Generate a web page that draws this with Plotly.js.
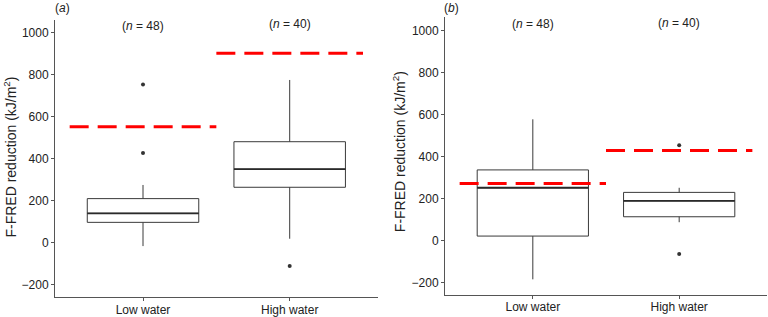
<!DOCTYPE html>
<html>
<head>
<meta charset="utf-8">
<script src="https://cdn.plot.ly/plotly-3.0.1.min.js"></script>
<style>
html,body{margin:0;padding:0;background:#fff;}
#chart{width:768px;height:317px;}
</style>
</head>
<body>
<div id="chart"></div>
<script>
// ---- data ----
const categories = ['Low water', 'High water'];
const catPos = [1, 2];
const nLabels = ['48', '40'];

// panel (a)
const q1A = [95, 262];
const medA = [138, 348];
const q3A = [208, 479];
const lowA = [-18, 17];
const highA = [273, 773];
const outXA = [1, 1, 2];
const outYA = [752, 425, -113];
const refA = [550, 900];

// panel (b)
const q1B = [22, 114];
const medB = [252, 190];
const q3B = [337, 230];
const lowB = [-184, 88];
const highB = [578, 252];
const outXB = [2, 2];
const outYB = [455, -63];
const refB = [272, 430];

const yTicks = [-200, 0, 200, 400, 600, 800, 1000];

// ---- styles ----
const BOXW = 0.76;
const boxLine = '#3a3a3a';
const font = 'Liberation Sans, Arial, Helvetica, sans-serif';

function panel(xa, ya, q1, med, q3, lo, hi, ox, oy, ref) {
  const tr = [];
  tr.push({
    type: 'box', xaxis: xa, yaxis: ya,
    x: catPos, q1: q1, median: med, q3: q3, lowerfence: lo, upperfence: hi,
    width: BOXW, boxpoints: false, fillcolor: '#ffffff',
    line: {color: boxLine, width: 1}, whiskerwidth: 0,
    hoverinfo: 'skip', showlegend: false
  });
  // thicker median
  catPos.forEach((c, i) => {
    tr.push({
      type: 'scatter', mode: 'lines', xaxis: xa, yaxis: ya,
      x: [c - BOXW / 2, c + BOXW / 2], y: [med[i], med[i]],
      line: {color: '#2a2a2a', width: 1.8}, hoverinfo: 'skip', showlegend: false
    });
  });
  // outliers
  tr.push({
    type: 'scatter', mode: 'markers', xaxis: xa, yaxis: ya,
    x: ox, y: oy, marker: {color: '#333333', size: 4},
    hoverinfo: 'skip', showlegend: false
  });
  // red dashed reference lines
  catPos.forEach((c, i) => {
    tr.push({
      type: 'scatter', mode: 'lines', xaxis: xa, yaxis: ya,
      x: [c - 0.5, c + 0.5], y: [ref[i], ref[i]],
      line: {color: '#ff0000', width: 3, dash: '19px,9px'},
      hoverinfo: 'skip', showlegend: false
    });
  });
  return tr;
}

const traces = [].concat(
  panel('x', 'y', q1A, medA, q3A, lowA, highA, outXA, outYA, refA),
  panel('x2', 'y2', q1B, medB, q3B, lowB, highB, outXB, outYB, refB)
);

function xaxis(domain, anchor) {
  return {
    domain: domain, anchor: anchor, range: [0.4, 2.6],
    tickmode: 'array', tickvals: catPos, ticktext: categories,
    showgrid: false, zeroline: false, showline: true, linecolor: '#555555', linewidth: 1,
    ticks: 'outside', ticklen: 3, tickcolor: '#555555', ticklabelstandoff: -2,
    tickfont: {family: font, size: 12, color: '#222222'}, fixedrange: true
  };
}
function yaxis(domain, anchor, range) {
  return {
    domain: domain, anchor: anchor, range: range,
    tickmode: 'array', tickvals: yTicks,
    showgrid: false, zeroline: false, showline: true, linecolor: '#555555', linewidth: 1,
    ticks: 'outside', ticklen: 3, tickcolor: '#555555',
    tickfont: {family: font, size: 12, color: '#222222'}, fixedrange: true
  };
}

const annotations = [];
const yTitle = 'F-FRED reduction (kJ/m<sup>2</sup>)';
annotations.push({xref: 'paper', yref: 'paper', x: 10 / 768, y: 0.503, text: yTitle, textangle: -90,
  showarrow: false, xanchor: 'center', yanchor: 'middle', font: {family: font, size: 14, color: '#222'}});
annotations.push({xref: 'paper', yref: 'paper', x: 399 / 768, y: 0.52, text: yTitle, textangle: -90,
  showarrow: false, xanchor: 'center', yanchor: 'middle', font: {family: font, size: 14, color: '#222'}});
annotations.push({xref: 'paper', yref: 'paper', x: 62 / 768, y: (317 - 8) / 317, text: '(<i>a</i>)',
  showarrow: false, xanchor: 'center', yanchor: 'middle', font: {family: font, size: 12, color: '#222'}});
annotations.push({xref: 'paper', yref: 'paper', x: 451 / 768, y: (317 - 8) / 317, text: '(<i>b</i>)',
  showarrow: false, xanchor: 'center', yanchor: 'middle', font: {family: font, size: 12, color: '#222'}});
const nY = [[26, 24], [24, 23]];
['x', 'x2'].forEach((xr, p) => {
  catPos.forEach((c, i) => {
    annotations.push({xref: xr, yref: 'paper', x: c, y: (317 - nY[p][i]) / 317,
      text: '(<i>n</i> = ' + nLabels[i] + ')', showarrow: false, xanchor: 'center', yanchor: 'middle',
      font: {family: font, size: 12, color: '#222'}});
  });
});

const layout = {
  width: 768, height: 317,
  margin: {l: 0, r: 0, t: 0, b: 0},
  paper_bgcolor: '#ffffff', plot_bgcolor: '#ffffff',
  showlegend: false,
  xaxis: xaxis([55 / 768, 377.7 / 768], 'y'),
  yaxis: yaxis([(317 - 297.3) / 317, (317 - 20) / 317], 'x', [-261.9, 1058.6]),
  xaxis2: xaxis([445 / 768, 767 / 768], 'y2'),
  yaxis2: yaxis([(317 - 295) / 317, (317 - 17) / 317], 'x2', [-258.6, 1065.2]),
  annotations: annotations
};

Plotly.newPlot('chart', traces, layout, {displayModeBar: false, staticPlot: true});
</script>
</body>
</html>
